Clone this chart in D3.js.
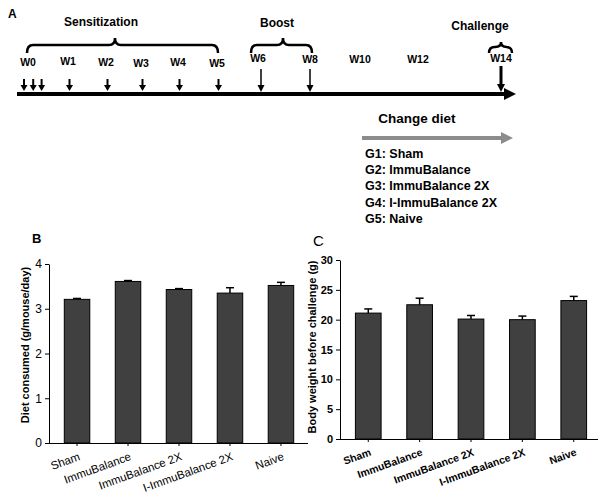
<!DOCTYPE html>
<html><head><meta charset="utf-8">
<script src="https://cdn.jsdelivr.net/npm/d3@7"></script>
<style>body{margin:0;background:#fff;}svg{display:block;font-family:"Liberation Sans",Arial,sans-serif;}</style>
</head><body>
<svg id="c" width="602" height="493"></svg>
<script>
// ---------- data ----------
const categories = ["Sham", "ImmuBalance", "ImmuBalance 2X", "I-ImmuBalance 2X", "Naive"];
const dietMeans = [3.21, 3.61, 3.43, 3.35, 3.52];
const dietErr = [0.02, 0.02, 0.02, 0.12, 0.07];
const weightMeans = [21.1, 22.5, 20.1, 20.0, 23.2];
const weightErr = [0.7, 1.1, 0.6, 0.6, 0.7];
const dietTicks = [0, 1, 2, 3, 4];
const weightTicks = [0, 5, 10, 15, 20, 25, 30];
const weekLabels = [0, 1, 2, 3, 4, 5, 6, 8, 10, 12, 14];
const sensitizationWeeks = [1, 2, 3, 4, 5];
const w0Injections = [-0.1, 0.13, 0.34];
const boostWeeks = [6, 8];
const challengeWeek = 14;
const groups = ["G1: Sham", "G2: ImmuBalance", "G3: ImmuBalance 2X", "G4: I-ImmuBalance 2X", "G5: Naive"];

const svg = d3.select("#c");

// ---------- Panel A: timeline ----------
const wx = d3.scaleLinear()
  .domain([0, 1, 2, 3, 4, 5, 6, 8, 10, 12, 14])
  .range([28, 68, 106, 141, 178, 217, 258, 310, 360, 418, 501]);

svg.append("text").attr("x", 8).attr("y", 18).attr("font-weight", "bold").attr("font-size", 12).text("A");

// main timeline
svg.append("line").attr("x1", 17).attr("x2", 506).attr("y1", 94).attr("y2", 94)
  .attr("stroke", "#000").attr("stroke-width", 4);
svg.append("path").attr("d", "M504,88 L516,94 L504,100 Z").attr("fill", "#000");

// week labels
const labelY = {0: 66, 1: 65, 2: 66, 3: 67, 4: 66, 5: 67, 6: 62, 8: 63, 10: 63, 12: 63, 14: 62};
svg.selectAll("text.wk").data(weekLabels).join("text").attr("class", "wk")
  .attr("x", d => wx(d)).attr("y", d => labelY[d])
  .attr("text-anchor", "middle").attr("font-weight", "bold").attr("font-size", 10.5)
  .text(d => "W" + d);

function arrow(x, y1, y2, w, hw, hh) {
  svg.append("line").attr("x1", x).attr("x2", x).attr("y1", y1).attr("y2", y2 - hh + 1)
    .attr("stroke", "#000").attr("stroke-width", w);
  svg.append("path").attr("d", `M${x - hw},${y2 - hh} L${x + hw},${y2 - hh} L${x},${y2} Z`).attr("fill", "#000");
}
w0Injections.forEach(d => arrow(wx(d), 79, 91, 2, 3.5, 6));
sensitizationWeeks.forEach(d => arrow(wx(d) + 1.5, 79, 91, 2, 3.5, 6));
boostWeeks.forEach((d, i) => arrow(wx(d) + (i === 0 ? 3 : 0), 69, 92, 1.5, 3.5, 7));
arrow(wx(challengeWeek), 66, 92, 3, 4, 8);

function brace(x1, x2, xm, yEnd, yMid, yPeak) {
  const r = Math.min(6, (x2 - x1) / 4);
  const p = `M${x1},${yEnd} Q${x1},${yMid} ${x1 + r},${yMid} L${xm - r},${yMid} Q${xm},${yMid} ${xm},${yPeak}` +
    ` Q${xm},${yMid} ${xm + r},${yMid} L${x2 - r},${yMid} Q${x2},${yMid} ${x2},${yEnd}`;
  svg.append("path").attr("d", p).attr("fill", "none").attr("stroke", "#000").attr("stroke-width", 2.5);
}
brace(wx(0) - 1, wx(5) + 1, 115, 53, 45, 38);
brace(wx(6) - 7, wx(8) + 2, 283, 53, 45, 38);
brace(wx(14) - 12, wx(14) + 11, wx(14), 53, 47, 42);

svg.append("text").attr("x", 101).attr("y", 26).attr("text-anchor", "middle").attr("font-weight", "bold").attr("font-size", 12).text("Sensitization");
svg.append("text").attr("x", 277).attr("y", 27).attr("text-anchor", "middle").attr("font-weight", "bold").attr("font-size", 12).text("Boost");
svg.append("text").attr("x", 480).attr("y", 30).attr("text-anchor", "middle").attr("font-weight", "bold").attr("font-size", 12).text("Challenge");

// change diet
svg.append("text").attr("x", 417).attr("y", 123).attr("text-anchor", "middle").attr("font-weight", "bold").attr("font-size", 13.5).text("Change diet");
svg.append("line").attr("x1", 362).attr("x2", 503).attr("y1", 138).attr("y2", 138).attr("stroke", "#8c8c8c").attr("stroke-width", 4);
svg.append("path").attr("d", "M501,132 L513,138 L501,144 Z").attr("fill", "#8c8c8c");
svg.selectAll("text.grp").data(groups).join("text").attr("class", "grp")
  .attr("x", 365).attr("y", (d, i) => 158 + i * 16.2)
  .attr("font-weight", "bold").attr("font-size", 12.5).text(d => d);

// ---------- bar panels ----------
function barPanel(opt) {
  const x = d3.scaleBand().domain(categories).range([opt.x0, opt.x1]).paddingInner(0.5).paddingOuter(0.3);
  const y = d3.scaleLinear().domain(opt.domain).range([opt.yb, opt.yt]);
  const g = svg.append("g");
  const fw = opt.bold ? "bold" : "normal";
  // y axis
  const ya = g.append("g").attr("transform", `translate(${opt.x0},0)`)
    .call(d3.axisLeft(y).tickValues(opt.ticks).tickFormat(d3.format("d")).tickSize(4).tickSizeOuter(0).tickPadding(3));
  ya.select(".domain").attr("stroke", "#000");
  ya.selectAll("text").attr("font-size", opt.tfs).attr("font-weight", fw).attr("font-family", "Liberation Sans, Arial, sans-serif").attr("fill", "#000");
  // x axis baseline
  const xa = g.append("g").attr("transform", `translate(0,${opt.yb})`)
    .call(d3.axisBottom(x).tickSize(3).tickSizeOuter(0).tickFormat(""));
  xa.select(".domain").attr("d", `M${opt.x0},0.5H${opt.xEnd}`).attr("stroke", "#000");
  // bars
  g.selectAll("rect.bar").data(opt.means).join("rect").attr("class", "bar")
    .attr("x", (d, i) => x(categories[i])).attr("width", x.bandwidth())
    .attr("y", d => y(d)).attr("height", d => y(opt.domain[0]) - y(d))
    .attr("fill", "#404040").attr("stroke", "#000").attr("stroke-width", 1);
  // error bars
  opt.means.forEach((m, i) => {
    const cx = x(categories[i]) + x.bandwidth() / 2;
    const top = y(m + opt.err[i]);
    g.append("line").attr("x1", cx).attr("x2", cx).attr("y1", y(m)).attr("y2", top).attr("stroke", "#000").attr("stroke-width", 1.5);
    g.append("line").attr("x1", cx - 4).attr("x2", cx + 4).attr("y1", top).attr("y2", top).attr("stroke", "#000").attr("stroke-width", 1.5);
  });
  // x labels
  categories.forEach(c => {
    const cx = x(c) + x.bandwidth() / 2;
    g.append("text").attr("transform", `translate(${cx + 1},${opt.yb + 9}) rotate(-20)`)
      .attr("text-anchor", "end").attr("dy", "0.71em")
      .attr("font-size", opt.xlfs).attr("font-weight", fw).text(c);
  });
  // y label
  g.append("text").attr("transform", `translate(${opt.lx},${opt.ly}) rotate(-90)`)
    .attr("text-anchor", "middle").attr("font-weight", "bold").attr("font-size", 11).text(opt.label);
  svg.append("text").attr("x", opt.px).attr("y", opt.py).attr("font-size", opt.lfs).attr("font-weight", opt.bold ? "normal" : "bold").text(opt.letter);
}

barPanel({x0: 49, x1: 309, xEnd: 308, yb: 443, yt: 264, domain: [0, 4], ticks: dietTicks, tfs: 12,
  means: dietMeans, err: dietErr, bold: false, xlfs: 11.5, lx: 29, ly: 345,
  label: "Diet consumed (g/mouse/day)", letter: "B", px: 32, py: 243, lfs: 13});
barPanel({x0: 340, x1: 602, xEnd: 598, yb: 439, yt: 260, domain: [0, 30], ticks: weightTicks, tfs: 11,
  means: weightMeans, err: weightErr, bold: true, xlfs: 10.5, lx: 316, ly: 347,
  label: "Body weight before challenge (g)", letter: "C", px: 313, py: 246, lfs: 15});
</script>
</body></html>
